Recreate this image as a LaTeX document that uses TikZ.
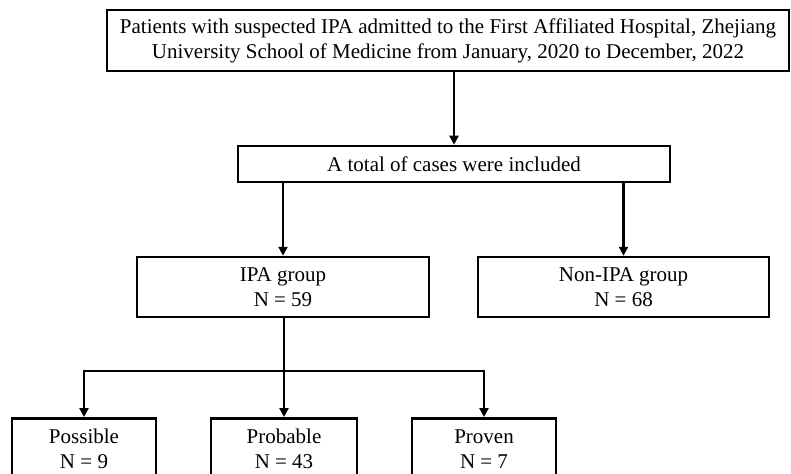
\documentclass[tikz,border=0pt]{standalone}
\usepackage{fontspec}
\setmainfont{Liberation Serif}
\usetikzlibrary{arrows.meta}
\begin{document}
\begin{tikzpicture}[x=1pt,y=-1pt,
  box/.style={draw=black, line width=2.5pt, fill=white, inner sep=0pt, align=center, font=\fontsize{21}{25}\selectfont},
  txt/.style={inner sep=0pt, align=center, font=\fontsize{21}{25}\selectfont},
  arr/.style={line width=2.2pt, -{Triangle[length=9pt,width=9pt]}},
  ln/.style={line width=2.2pt}]
\useasboundingbox (0,0) rectangle (791,473);
\node[box, minimum width=682pt, minimum height=61pt] (top) at (448,40.5)
  {Patients with suspected IPA admitted to the First Affiliated Hospital, Zhejiang\\University School of Medicine from January, 2020 to December, 2022};
\node[box, minimum width=432pt, minimum height=36pt] (total) at (454,164) {A total of cases were included};
\node[box, minimum width=292pt, minimum height=60pt] (ipa) at (283,287) {IPA group\\N = 59};
\node[box, minimum width=291pt, minimum height=60pt] (non) at (623.5,287) {Non-IPA group\\N = 68};
\node[box, minimum width=144pt, minimum height=90pt, anchor=north] (poss) at (84,417) {};
\node[box, minimum width=146pt, minimum height=90pt, anchor=north] (prob) at (284,417) {};
\node[box, minimum width=144pt, minimum height=90pt, anchor=north] (prov) at (484,417) {};
\node[txt] (possT) at ([yshift=-32pt]poss.north) {Possible\\N = 9};
\node[txt] (probT) at ([yshift=-32pt]prob.north) {Probable\\N = 43};
\node[txt] (provT) at ([yshift=-32pt]prov.north) {Proven\\N = 7};
\coordinate (split) at (284,371);
\draw[arr] (total.north |- top.south) -- (total.north);
\draw[arr] (ipa.north |- total.south) -- (ipa.north);
\draw[arr] (non.north |- total.south) -- (non.north);
\draw[arr] (prob.north |- ipa.south) -- (prob.north);
\draw[arr] (split) -| (poss.north);
\draw[arr] (split) -| (prov.north);
\end{tikzpicture}
\end{document}
